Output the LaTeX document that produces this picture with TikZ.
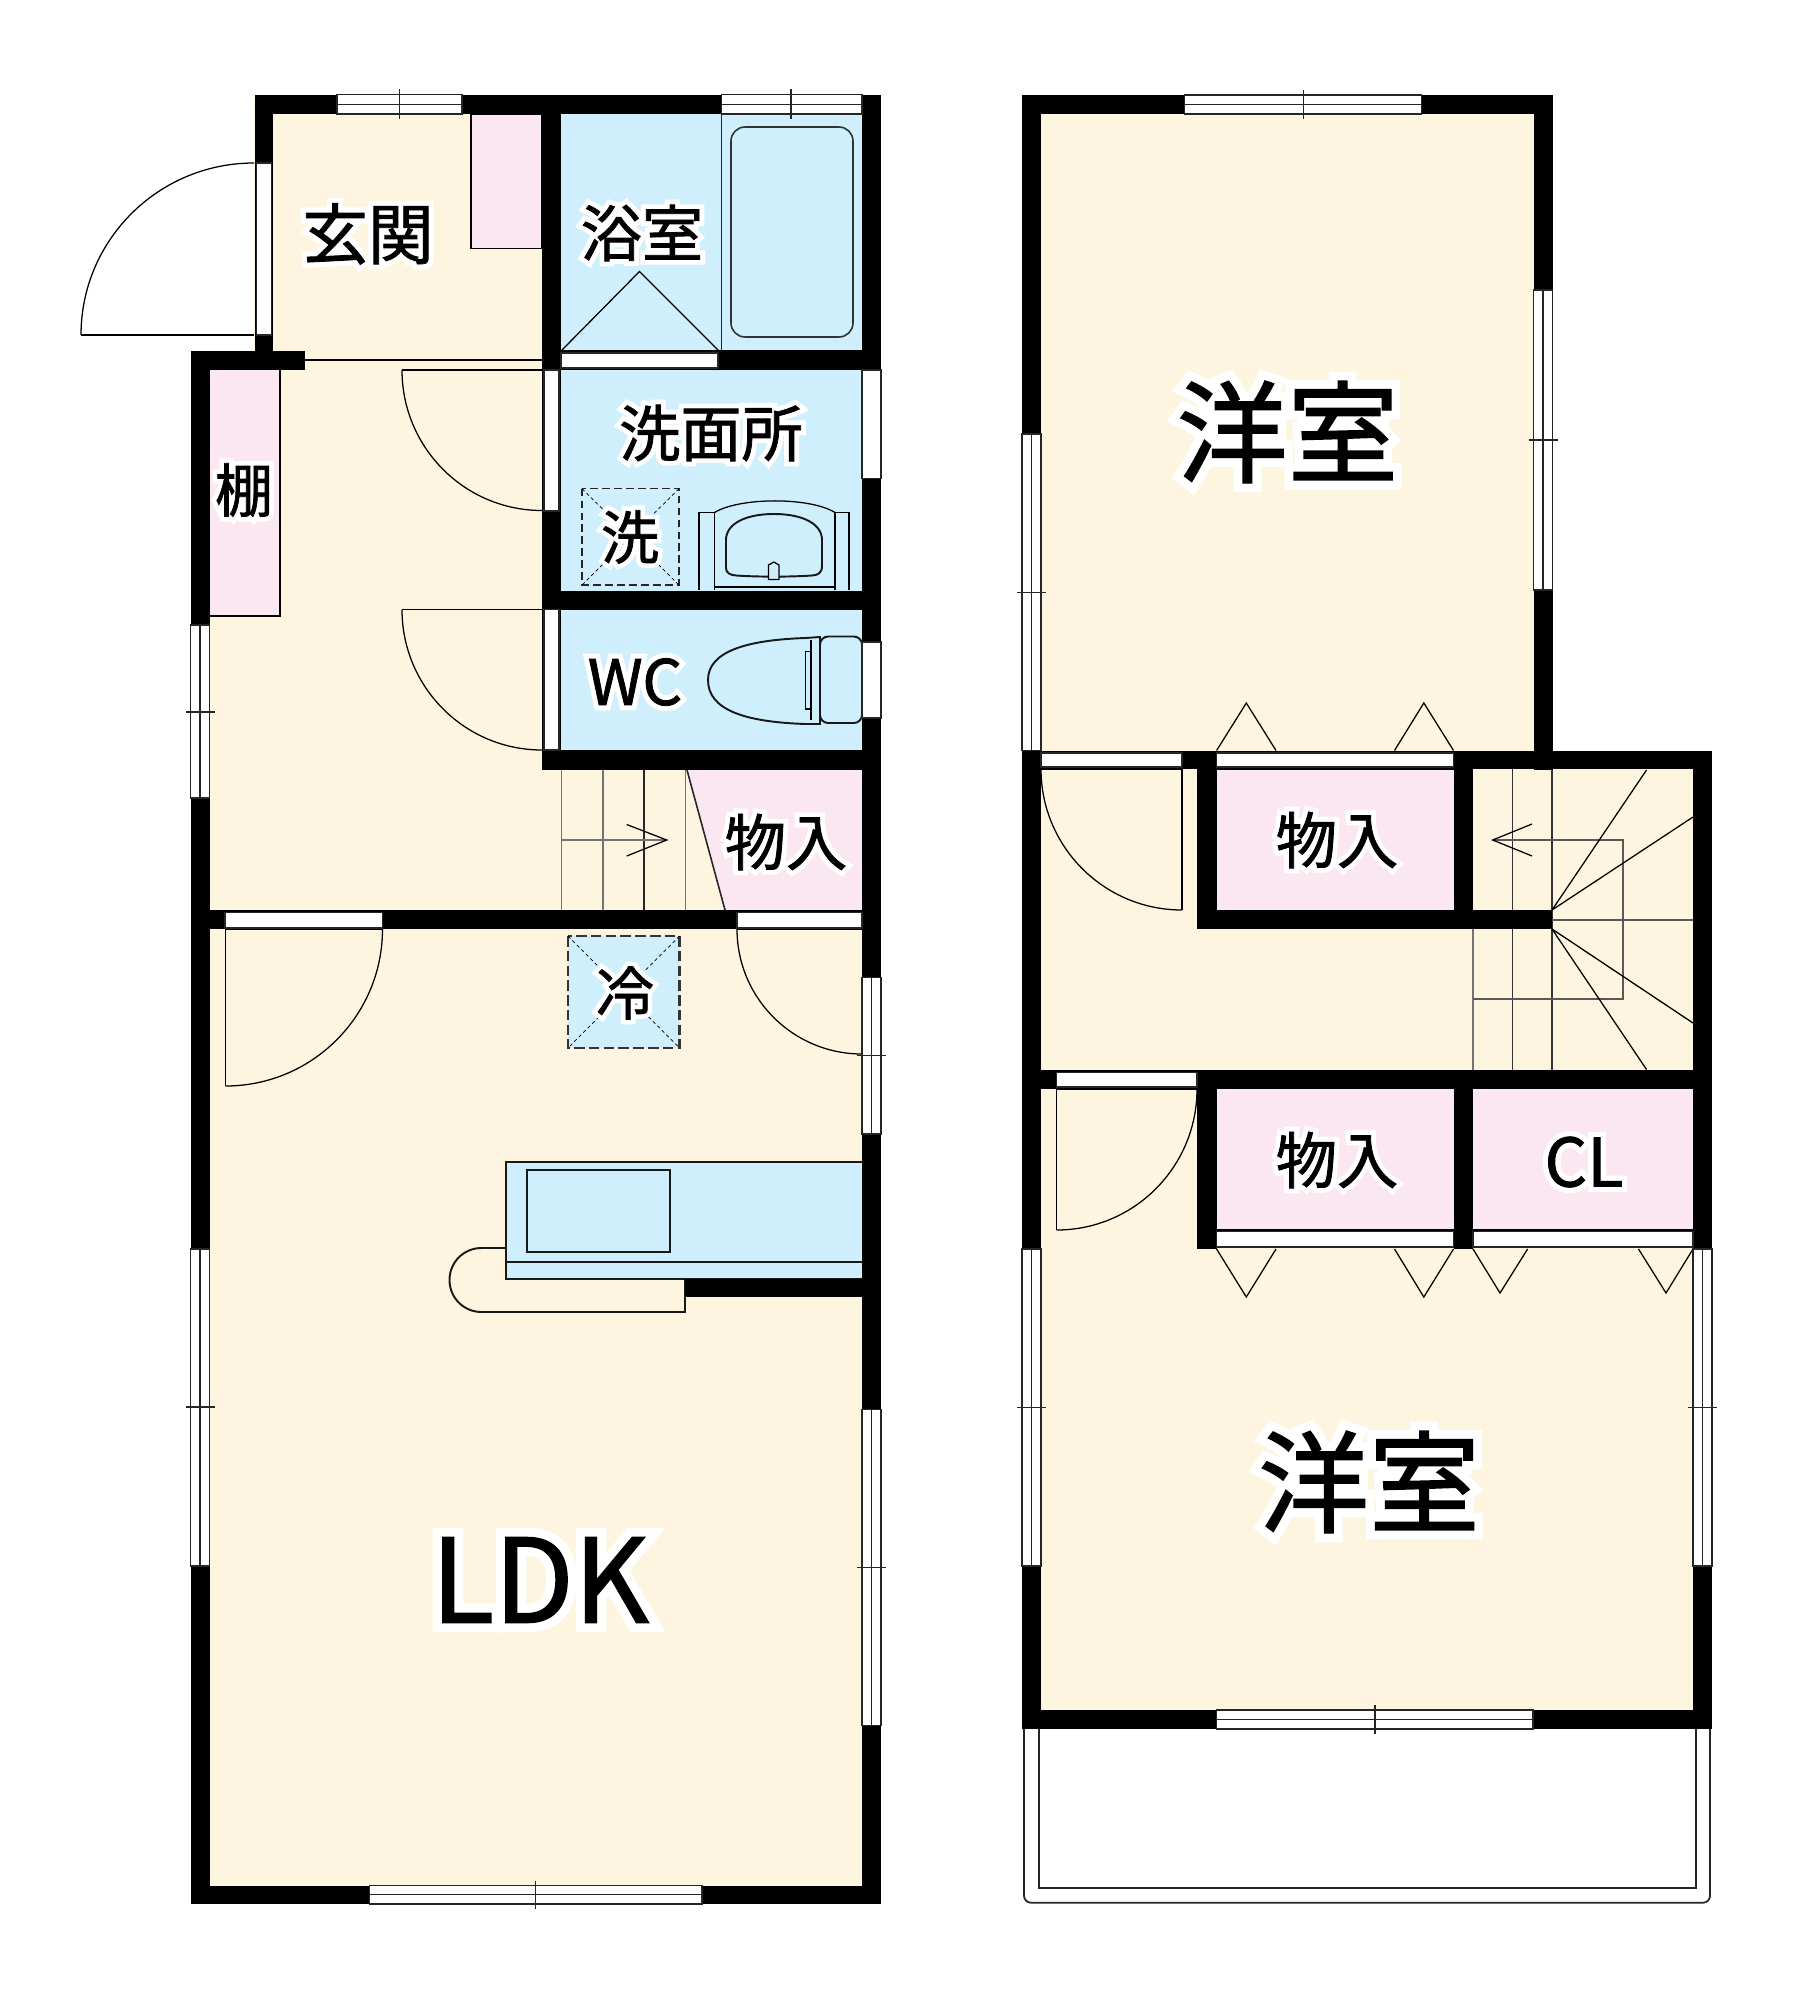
\documentclass[tikz,border=0pt]{standalone}
\usepackage{fontspec}
\newfontfamily\jp{Noto Sans CJK JP}[FakeBold=1.3]
\newfontfamily\jphalo{Noto Sans CJK JP}[FakeBold=17]
\definecolor{cream}{HTML}{FEF5E0}
\definecolor{wetblue}{HTML}{CFEFFD}
\definecolor{closet}{HTML}{FBE7F1}
\newcommand\lbl[2]{\fontsize{#1pt}{#1pt}\selectfont\jp\leavevmode\rlap{\color{white}\jphalo #2}#2}
\newcommand\qarc[6]{\draw[thinln] (#1,#2) .. controls ({#1+.5523*(#3-#5)},{#2+.5523*(#4-#6)}) and ({#3+.5523*(#1-#5)},{#4+.5523*(#2-#6)}) .. (#3,#4);}
\newcommand\vwin[5]{\draw[winln,fill=white] (#1,#3) rectangle (#2,#4);\draw[winln] ({(#1+#2)/2},#3) -- ({(#1+#2)/2},#4);\draw[winln] ({#1-5},#5) -- ({#2+5},#5);}
\newcommand\hwin[5]{\draw[winln,fill=white] (#1,#3) rectangle (#2,#4);\draw[winln] (#1,{(#3+#4)/2}) -- (#2,{(#3+#4)/2});\draw[winln] (#5,{#3-5}) -- (#5,{#4+5});}
\newcommand\wall[4]{\fill[black] (#1,#2) rectangle (#3,#4);}
\newcommand\opening[4]{\draw[winln,fill=white] (#1,#2) rectangle (#3,#4);}
\tikzset{
  x=0.01cm,y=-0.01cm,
  thinln/.style={line width=0.36pt,draw=black},
  winln/.style={line width=0.36pt,draw=black!85},
  stairln/.style={line width=0.3pt,draw=black!55},
  fixln/.style={line width=0.55pt,draw=black!90},
  label/.style={inner sep=0pt,outer sep=0pt,anchor=center,text=black},
}
\begin{document}
\begin{tikzpicture}
\useasboundingbox (0,0) rectangle (1798,2000);
\fill[white] (0,0) rectangle (1798,2000);
% floors
\fill[cream] (254,100) rectangle (545,365);
\fill[cream] (200,360) rectangle (545,775);
\fill[cream] (200,770) rectangle (870,1890);
\fill[cream] (1030,100) rectangle (1540,760);
\fill[cream] (1030,760) rectangle (1700,1720);
\fill[wetblue] (555,110) rectangle (870,755);
\fill[closet] (209,370) rectangle (280,616);
\draw[thinln,fill=closet] (471,114) rectangle (542,248.5);
\fill[closet] (687,770) -- (862,770) -- (862,910) -- (725,910) -- cycle;
\draw[line width=0.45pt,draw=black!85] (687,770) -- (725,910);
\fill[closet] (1216,769) rectangle (1454,910.4);
\fill[closet] (1216,1089) rectangle (1454,1230);
\fill[closet] (1473,1089) rectangle (1693,1230);
\draw[thinln] (209,616) -- (280,616) -- (280,370);
% balcony
\draw[line width=0.5pt,draw=black!85,rounded corners=2pt] (1024,1720) -- (1024,1902.7) -- (1710,1902.7) -- (1710,1720);
\draw[line width=0.5pt,draw=black!85] (1038.7,1720) -- (1038.7,1888) -- (1696,1888) -- (1696,1720);
% entry door
\qarc{254}{163}{81}{335}{254}{335}
\draw[thinln] (81,335) -- (254,335);
% fridge
\draw[line width=0.6pt,draw=black!80,dash pattern=on 3pt off 1.2pt,fill=wetblue] (568,936) rectangle (679.5,1048);
\draw[line width=0.2pt,black,dash pattern=on 1pt off 0.8pt] (568,936) -- (679.5,1048) (679.5,936) -- (568,1048);
% kitchen
\draw[fixln] (506,1248) -- (481.5,1248) .. controls (464,1248) and (449.5,1262) .. (449.5,1280) .. controls (449.5,1298) and (464,1312) .. (481.5,1312) -- (685,1312) -- (685,1279);
\draw[fixln,fill=wetblue] (862,1161.6) -- (506,1161.6) -- (506,1279) -- (862,1279);
\draw[fixln] (527,1170) rectangle (670,1252);
\draw[fixln] (506,1261.6) -- (862,1261.6);
% bath
\draw[line width=0.5pt,draw=black!85] (721.5,114) -- (721.5,349.5);
\draw[line width=0.45pt,draw=black!80,rounded corners=4pt] (731,127) rectangle (853,337);
\draw[thinln] (561,351) -- (639.5,271.5) -- (719,351);
% washroom
\draw[line width=0.5pt,draw=black!85,dash pattern=on 2.2pt off 1.2pt] (582,488.6) rectangle (679,585);
\draw[line width=0.2pt,black,dash pattern=on 1pt off 0.8pt] (582,488.6) -- (679,585) (679,488.6) -- (582,585);
\draw[thinln] (699,590) -- (699,512.5) -- (714.5,512.5) -- (714.5,590);
\draw[thinln] (849,590) -- (849,512.5) -- (835,512.5) -- (835,590);
\draw[thinln] (714.5,512.5) .. controls (740,497) and (810,497) .. (835,512.5);
\draw[fixln] (726,568) -- (726,540) .. controls (726,524) and (745,514) .. (774,514) .. controls (803,514) and (822,524) .. (822,540) -- (822,566) .. controls (822,573) and (818,575) .. (812,575.5) .. controls (790,577) and (758,577) .. (736,575.5) .. controls (730,575) and (726,573) .. (726,568);
\draw[thinln,fill=wetblue] (768.6,565) -- (773.8,562) -- (779,565) -- (779,579.5) -- (768.6,579.5) -- cycle;
\draw[thinln] (714.5,587) -- (835,587);
% toilet
\draw[fixln,fill=wetblue] (805.6,638) .. controls (745,640) and (708,652) .. (708,680) .. controls (708,710) and (745,722) .. (805.6,724) -- (820,724) -- (820,637) -- cycle;
\draw[fixln,fill=wetblue,rounded corners=2.3pt] (820,636.5) -- (862,636.5) -- (862,723) -- (820,723) -- cycle;
\draw[thinln] (805.6,651.6) -- (811,651.6) -- (811,709) -- (805.6,709) -- cycle;
\draw[thinln] (811,640) -- (811,720);
% stairs, first floor
\draw[stairln] (561.5,770) -- (561.5,910) (603,770) -- (603,910) (685.5,770) -- (685.5,910);
\draw[line width=0.3pt,black!85] (644,770) -- (644,910);
\draw[stairln] (561.5,840) -- (666.7,840);
\draw[thinln] (626.7,824.5) -- (666.7,840) -- (626.7,856);
% inner line of the hall
\draw[thinln] (305,360) -- (542,360);
% upper closet folding doors
\draw[thinln] (1216.6,750.5) -- (1246.3,703) -- (1276,750.5);
\draw[thinln] (1394.5,750.5) -- (1423.8,703) -- (1453.5,750.5);
\draw[thinln] (1216.6,1249) -- (1246.3,1297) -- (1276,1249);
\draw[thinln] (1394.5,1249) -- (1423.8,1297) -- (1453.5,1249);
\draw[thinln] (1473,1249) -- (1500,1293) -- (1527.6,1249);
\draw[thinln] (1638.5,1249) -- (1666,1293) -- (1693,1249);
% stairs, second floor
\draw[stairln] (1473,929) -- (1473,1069.5);
\draw[line width=0.3pt,black!80] (1512.5,769) -- (1512.5,1069.5) (1552,769) -- (1552,1069.5);
\draw[line width=0.32pt,draw=black!65] (1492.7,840) -- (1623,840) -- (1623,999) -- (1473,999);
\draw[line width=0.32pt,draw=black!65] (1552,920) -- (1693,920);
\draw[thinln] (1532,824) -- (1492.7,840) -- (1532,856);
\draw[thinln] (1552,910) -- (1646.5,770) (1552,910) -- (1693,817) (1552,929) -- (1693,1023) (1552,929) -- (1646.5,1069.5);
% doors
\qarc{402}{370}{542}{510.5}{542}{370}
\draw[thinln] (402,370) -- (542,370);
\qarc{402}{609.5}{542}{750}{542}{609.5}
\draw[thinln] (402,609.5) -- (542,609.5);
\qarc{225.5}{1086}{382.5}{929}{225.5}{929}
\draw[thinln] (225.5,929) -- (225.5,1086) (225.5,929) -- (382.5,929);
\qarc{737}{929}{862}{1054}{862}{929}
\draw[thinln] (737,929) -- (862,929);
\qarc{1041}{769}{1182}{910}{1182}{769}
\draw[thinln] (1182,769) -- (1182,910) (1041,769) -- (1182,769);
\qarc{1056.6}{1230}{1197}{1089}{1056.6}{1089}
\draw[thinln] (1056.6,1089) -- (1056.6,1230) (1056.6,1089) -- (1197,1089);
\draw[line width=0.4pt,black] (1216.6,769) -- (1453.5,769) (1216.6,1230) -- (1453.5,1230) (1473,1230) -- (1693,1230);
% walls, first floor
\wall{254.5}{95}{881}{114}
\wall{254.5}{95}{273}{351}
\wall{190.5}{351}{305}{370}
\wall{190.5}{351}{209.5}{1904}
\wall{862}{95}{881}{1904}
\wall{190.5}{1885.5}{881}{1904}
\wall{542}{95}{561}{770}
\wall{542}{349.5}{881}{370}
\wall{542}{590.5}{881}{609.5}
\wall{542}{750}{881}{770}
\wall{190.5}{910}{881}{929}
\wall{685}{1279}{862}{1297}
% walls, second floor
\wall{1022}{95}{1552.5}{114}
\wall{1022}{95}{1041}{1729}
\wall{1533.5}{95}{1552.5}{770}
\wall{1022}{750.5}{1712}{769}
\wall{1197}{750.5}{1216.6}{929.4}
\wall{1453.5}{750.5}{1473}{929.4}
\wall{1197}{910.4}{1552}{929.4}
\wall{1022}{1070}{1712}{1089}
\wall{1197}{1070}{1216.6}{1249}
\wall{1453.5}{1070}{1473}{1249}
\wall{1693}{750.5}{1712}{1729}
\wall{1022}{1710}{1712}{1729}
% door openings
\opening{256.6}{163}{271.6}{335}
\opening{561}{353}{718}{368}
\opening{544}{370}{559}{511}
\opening{544}{609.5}{559}{750}
\opening{862}{370}{881}{478.5}
\opening{862}{642}{881}{718}
\opening{225}{912.6}{382.5}{928}
\opening{737}{912.6}{862}{928}
\opening{1041}{753}{1182}{767}
\opening{1216.6}{753}{1453.5}{767}
\opening{1056.6}{1072.5}{1197}{1087}
\opening{1216.6}{1231.5}{1453.5}{1247}
\opening{1473}{1231.5}{1693}{1247}
% windows
\hwin{337}{462}{94.5}{114}{399.6}
\hwin{721.5}{862}{94.5}{114}{791}
\vwin{190.5}{209.5}{625}{798}{712}
\vwin{862}{881}{977.5}{1134}{1055.5}
\vwin{190.5}{209.5}{1249}{1566}{1407}
\vwin{862}{881}{1409.5}{1725.5}{1567.5}
\hwin{369.6}{702}{1885.5}{1904}{535.7}
\hwin{1184.6}{1421.7}{95}{114}{1303.4}
\vwin{1533.5}{1552.5}{290}{590}{440}
\vwin{1022}{1041}{434}{750.5}{592.5}
\vwin{1022}{1041}{1249}{1566}{1407.5}
\vwin{1693}{1712}{1249}{1566}{1407.5}
\hwin{1216.6}{1533}{1710}{1729}{1375}
% labels
\node[label] (genkan) at (368,234) {\lbl{18.7}{玄関}};
\node[label] (yokushitsu) at (642,233) {\lbl{17.4}{浴室}};
\node[label] (senmen) at (711,433) {\lbl{17.4}{洗面所}};
\node[label] (sentaku) at (630,537) {\lbl{16.5}{洗}};
\node[label] (tana) at (244,490) {\lbl{16.5}{棚}};
\node[label] (wc) at (635,682) {\lbl{17.8}{WC}};
\node[label] (rei) at (625,993) {\lbl{16.5}{冷}};
\node[label] (mono1) at (786,842) {\lbl{17.4}{物入}};
\node[label] (mono2) at (1337,840) {\lbl{17.4}{物入}};
\node[label] (mono3) at (1337,1160) {\lbl{17.4}{物入}};
\node[label] (cl) at (1584,1162) {\lbl{19}{CL}};
\node[label] (yo1) at (1287.5,432) {\lbl{31.5}{洋室}};
\node[label] (yo2) at (1369,1482) {\lbl{31.5}{洋室}};
\node[label] (ldk) at (540,1580) {\lbl{33}{LDK}};
\end{tikzpicture}
\end{document}
